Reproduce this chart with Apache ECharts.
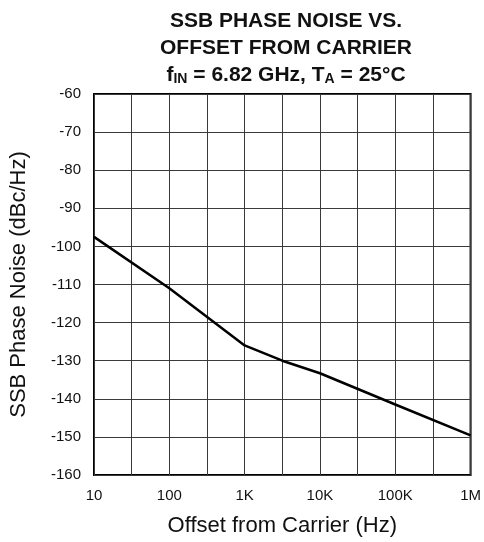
<!DOCTYPE html>
<html>
<head>
<meta charset="utf-8">
<script src="https://cdn.jsdelivr.net/npm/echarts@6/dist/echarts.min.js"></script>
<style>
  html, body { margin: 0; padding: 0; background: #fff; }
  #chart { width: 484px; height: 542px; }
</style>
</head>
<body>
<div id="chart"></div>
<script>
// Offset frequencies (Hz) and measured SSB phase noise (dBc/Hz)
const offsetHz = [10, 100, 1000, 3162, 10000, 100000, 1000000];
const phaseNoise = [-97.5, -111, -126, -130, -133.3, -141.5, -149.6];

// Decade labels for the logarithmic frequency axis (exponents 1..6)
const decadeExponents = [1, 2, 3, 4, 5, 6];
const decadeLabels = ['10', '100', '1K', '10K', '100K', '1M'];

const FONT = '"Liberation Sans", Arial, sans-serif';

// Frequency axis is drawn in log10 units so half-decade grid lines fall evenly
const seriesData = offsetHz.map((f, i) => [Math.log10(f), phaseNoise[i]]);

const chart = echarts.init(document.getElementById('chart'), null, { renderer: 'canvas' });

chart.setOption({
  animation: false,
  backgroundColor: '#fff',
  grid: {
    left: 94, right: 7, top: 94, bottom: 64,
    show: true, borderColor: '#000', borderWidth: 2, backgroundColor: 'transparent'
  },
  graphic: [{
    type: 'text',
    x: 286,
    y: 5,
    style: {
      text: '{b|SSB PHASE NOISE VS.}\n{b|OFFSET FROM CARRIER}\n{b|f}{s|IN}{b| = 6.82 GHz, T}{s|A}{b| = 25°C}',
      align: 'center',
      verticalAlign: 'top',
      lineHeight: 27,
      rich: {
        b: { fontFamily: FONT, fontWeight: 'bold', fontSize: 21, fill: '#111', lineHeight: 27, verticalAlign: 'bottom' },
        s: { fontFamily: FONT, fontWeight: 'bold', fontSize: 14, fill: '#111', lineHeight: 27, verticalAlign: 'bottom' }
      }
    }
  }],
  xAxis: {
    type: 'value',
    min: 1, max: 6, interval: 0.5,
    name: 'Offset from Carrier (Hz)',
    nameLocation: 'middle',
    nameGap: 40,
    nameTextStyle: { fontFamily: FONT, fontSize: 22, color: '#111' },
    axisLine: { show: false },
    axisTick: { show: false },
    axisLabel: {
      margin: 13,
      fontFamily: FONT, fontSize: 15, color: '#111',
      formatter: function (v) {
        const idx = decadeExponents.indexOf(Math.round(v * 2) / 2);
        return idx >= 0 ? decadeLabels[idx] : '';
      }
    },
    splitLine: { show: true, lineStyle: { color: '#3a3a3a', width: 1 } }
  },
  yAxis: {
    type: 'value',
    min: -160, max: -60, interval: 10,
    name: 'SSB Phase Noise (dBc/Hz)',
    nameLocation: 'middle',
    nameGap: 64,
    nameTextStyle: { fontFamily: FONT, fontSize: 22, color: '#111' },
    axisLine: { show: false },
    axisTick: { show: false },
    axisLabel: { margin: 13, fontFamily: FONT, fontSize: 15, color: '#111' },
    splitLine: { show: true, lineStyle: { color: '#3a3a3a', width: 1 } }
  },
  series: [{
    type: 'line',
    data: seriesData,
    showSymbol: false,
    symbol: 'none',
    lineStyle: { color: '#000', width: 2.5 },
    z: 5
  }]
});
</script>
</body>
</html>
